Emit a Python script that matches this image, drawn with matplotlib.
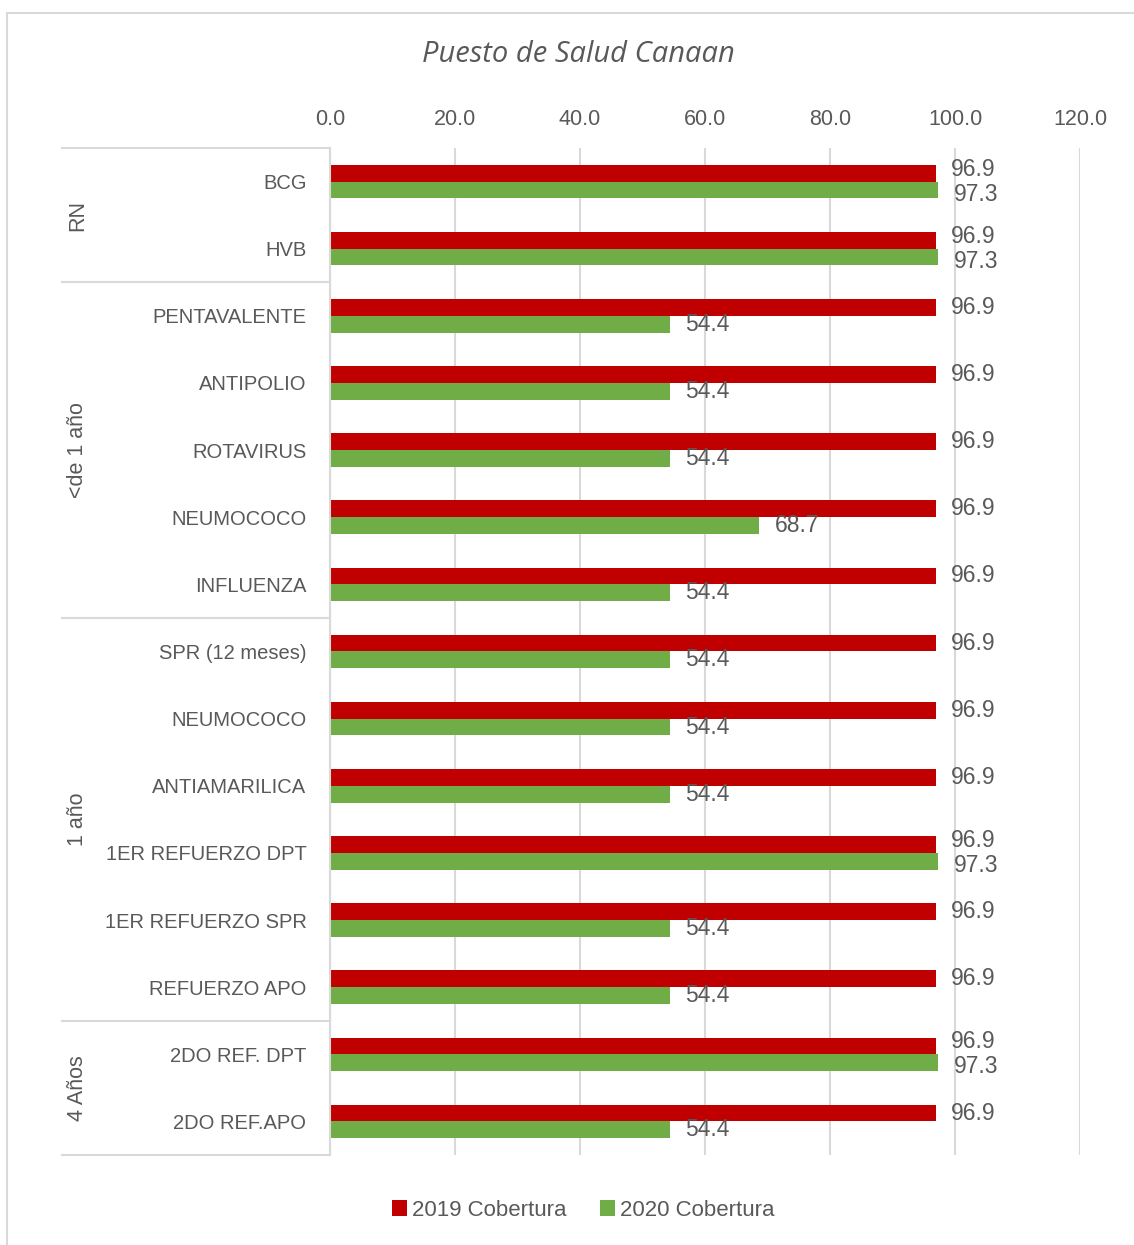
import matplotlib
matplotlib.use("Agg")
import matplotlib.pyplot as plt
from matplotlib.patches import Rectangle
import numpy as np

plt.rcParams['font.family'] = ['Liberation Sans', 'DejaVu Sans']

vacunas = ['BCG', 'HVB', 'PENTAVALENTE', 'ANTIPOLIO', 'ROTAVIRUS', 'NEUMOCOCO',
           'INFLUENZA', 'SPR (12 meses)', 'NEUMOCOCO', 'ANTIAMARILICA',
           '1ER REFUERZO DPT', '1ER REFUERZO SPR', 'REFUERZO APO',
           '2DO REF. DPT', '2DO REF.APO']
cob_2019 = [96.9, 96.9, 96.9, 96.9, 96.9, 96.9, 96.9, 96.9, 96.9, 96.9,
            96.9, 96.9, 96.9, 96.9, 96.9]
cob_2020 = [97.3, 97.3, 54.4, 54.4, 54.4, 68.7, 54.4, 54.4, 54.4, 54.4,
            97.3, 54.4, 54.4, 97.3, 54.4]
grupos = ['RN', '<de 1 año', '1 año', '4 Años']
grupo_n = [2, 5, 6, 2]

ROJO = '#C00000'
VERDE = '#70AD47'
GRIS = '#595959'
LINEA = '#D9D9D9'

fig = plt.figure(figsize=(11.34, 12.45), dpi=100)
ax = fig.add_axes([330 / 1134, 1 - 1155 / 1245, 750 / 1134, 1007 / 1245])

y = np.arange(len(vacunas))
h = 0.25
b19 = ax.barh(y - h / 2, cob_2019, height=h, color=ROJO, label='2019 Cobertura')
b20 = ax.barh(y + h / 2, cob_2020, height=h, color=VERDE, label='2020 Cobertura')

# etiquetas de valor; se separan un poco cuando las dos barras terminan juntas
for i, (v19, v20) in enumerate(zip(cob_2019, cob_2020)):
    dy = 3 if abs(v19 - v20) < 5 else 0
    ax.annotate(f'{v19:.1f}', (v19, i - h / 2), xytext=(11, dy),
                textcoords='offset points', ha='left', va='center',
                fontsize=16.5, color=GRIS)
    ax.annotate(f'{v20:.1f}', (v20, i + h / 2), xytext=(11, -dy),
                textcoords='offset points', ha='left', va='center',
                fontsize=16.5, color=GRIS)

ax.set_xlim(0, 120)
ax.set_ylim(len(vacunas) - 0.5, -0.5)
ax.set_xticks(np.arange(0, 121, 20))
ax.set_xticklabels([f'{t:.1f}' for t in np.arange(0, 121, 20)])
ax.xaxis.tick_top()
ax.tick_params(axis='x', length=0, pad=13, labelsize=15.5, labelcolor=GRIS)
ax.set_yticks(y)
ax.set_yticklabels(vacunas)
ax.tick_params(axis='y', length=0, pad=17, labelsize=14.5, labelcolor=GRIS)
ax.grid(axis='x', color=LINEA, linewidth=1.5)
ax.set_axisbelow(True)
for s in ('top', 'right', 'bottom'):
    ax.spines[s].set_visible(False)
ax.spines['left'].set_color(LINEA)
ax.spines['left'].set_linewidth(1.5)

# separadores y etiquetas de grupo de edad
x_izq = (62 - 330) / 750
limites = np.concatenate([[0], np.cumsum(grupo_n)]) - 0.5
for lim in limites:
    ax.plot([x_izq, 0], [lim, lim], color=LINEA, linewidth=1.5,
            transform=ax.get_yaxis_transform(), clip_on=False)
for g, a, b in zip(grupos, limites[:-1], limites[1:]):
    ax.text((78 - 330) / 750, (a + b) / 2, g, rotation=90, ha='center', va='center',
            fontsize=15.5, color=GRIS, transform=ax.get_yaxis_transform())

fig.text(578 / 1134, 1 - 55 / 1245, 'Puesto de Salud Canaan', ha='center', va='center',
         fontsize=21, style='italic', color=GRIS, family=['Open Sans', 'DejaVu Sans'])

fig.legend(handles=[b19, b20], loc='center', bbox_to_anchor=(583 / 1134, 1 - 1210 / 1245),
           ncol=2, frameon=False, fontsize=16, labelcolor=GRIS, handlelength=0.7,
           handleheight=0.7, handletextpad=0.2, columnspacing=1.5)

fig.patches.append(Rectangle((7 / 1134, -0.1), 1.2, 1.1 - 13 / 1245, transform=fig.transFigure,
                             fill=False, edgecolor=LINEA, linewidth=1.5))

fig.savefig('out.png', dpi=100, facecolor='white')
